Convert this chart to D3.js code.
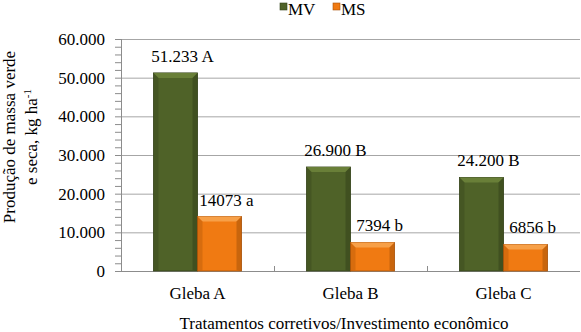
<!DOCTYPE html>
<meta charset="utf-8">
<style>
    body { margin: 0; background: #fff; }
    .grid line { stroke: #a6a6a6; stroke-width: 1px; }
</style>
<svg width="581" height="332"></svg>
<script src="https://d3js.org/d3.v7.min.js"></script>
<script>

    var categories = ["Gleba A", "Gleba B", "Gleba C"];
    var seriesNames = ["MV", "MS"];
    var mvValues = [51233, 26900, 24200];
    var msValues = [14073, 7394, 6856];
    var mvLabels = ["51.233 A", "26.900 B", "24.200 B"];
    var msLabels = ["14073 a", "7394 b", "6856 b"];
    var yTicks = [0, 10000, 20000, 30000, 40000, 50000, 60000];
    var yTickLabels = ["0", "10.000", "20.000", "30.000", "40.000", "50.000", "60.000"];

    var svg = d3.select("svg");
    var margin = {left: 121, right: 1, top: 39, bottom: 61};
    var width = 581 - margin.left - margin.right,
        height = 332 - margin.top - margin.bottom;
    var fs = "17px";
    var ff = "'Liberation Serif'";

    var colors = {MV: {base: "#4f6228", light: "#697f38", dark: "#34421a"},
                  MS: {base: "#f07a12", light: "#f7a048", dark: "#a8530a"}};

    var x0 = d3.scaleBand().domain(categories).range([0, width]);
    var x1 = d3.scaleBand().domain(seriesNames).range([0, 88]);
    var y = d3.scaleLinear().domain([0, 60000]).range([height, 0]);

    function label(sel) {
        return sel.style("font-family", ff).style("font-size", fs).attr("fill", "#000");
    }

    var g = svg.append("g").attr("transform", "translate(" + margin.left + "," + margin.top + ")");

    // grid
    g.append("g").attr("class", "grid")
        .selectAll("line").data(yTicks.slice(1)).enter().append("line")
        .attr("x1", 0).attr("x2", width)
        .attr("y1", function (d) { return y(d) + 0.5; })
        .attr("y2", function (d) { return y(d) + 0.5; });

    // y axis
    g.append("line").attr("x1", 0.5).attr("x2", 0.5).attr("y1", 0).attr("y2", height)
        .attr("stroke", "#8c8c8c");
    g.selectAll(".minor").data(d3.range(0, 60001, 2000)).enter().append("line")
        .attr("x1", -6).attr("x2", 0)
        .attr("y1", function (d) { return y(d) + 0.5; })
        .attr("y2", function (d) { return y(d) + 0.5; })
        .attr("stroke", "#8c8c8c");
    g.selectAll(".ylab").data(yTicks).enter().append("text")
        .attr("x", -16).attr("y", function (d) { return y(d); })
        .attr("dy", "0.35em").attr("text-anchor", "end")
        .call(label)
        .text(function (d, i) { return yTickLabels[i]; });

    // x axis
    g.append("line").attr("x1", 0).attr("x2", width).attr("y1", height + 0.5).attr("y2", height + 0.5)
        .attr("stroke", "#8c8c8c");
    g.selectAll(".xtick").data(categories.slice(1)).enter().append("line")
        .attr("x1", function (d) { return x0(d) + 0.5; })
        .attr("x2", function (d) { return x0(d) + 0.5; })
        .attr("y1", height - 5).attr("y2", height)
        .attr("stroke", "#8c8c8c");
    g.selectAll(".xlab").data(categories).enter().append("text")
        .attr("x", function (d) { return x0(d) + x0.bandwidth() / 2; })
        .attr("y", height + 28)
        .attr("text-anchor", "middle")
        .call(label)
        .text(function (d) { return d; });

    // bars
    var rows = categories.map(function (c, i) {
        return [{cat: c, s: "MV", v: mvValues[i], label: mvLabels[i]},
                {cat: c, s: "MS", v: msValues[i], label: msLabels[i]}];
    });
    var bev = 5;
    var groupOff = (x0.bandwidth() - 88) / 2;
    var bars = g.selectAll(".bar").data(d3.merge(rows)).enter().append("g")
        .attr("transform", function (d) { return "translate(" + (x0(d.cat) + groupOff + x1(d.s)) + ",0)"; });

    bars.append("rect")
        .attr("x", 0).attr("width", x1.bandwidth())
        .attr("y", function (d) { return y(d.v); })
        .attr("height", function (d) { return height - y(d.v); })
        .attr("fill", function (d) { return colors[d.s].base; })
        .attr("stroke", function (d) { return colors[d.s].dark; })
        .attr("stroke-width", 0.8);
    // bevel: top light, sides dark
    bars.append("path")
        .attr("fill", function (d) { return colors[d.s].light; })
        .attr("d", function (d) {
            var t = y(d.v), w = x1.bandwidth();
            return "M0," + t + "L" + w + "," + t + "L" + (w - bev) + "," + (t + bev) + "L" + bev + "," + (t + bev) + "Z";
        });
    bars.append("path")
        .attr("fill", function (d) { return colors[d.s].dark; }).attr("opacity", 0.55)
        .attr("d", function (d) {
            var t = y(d.v), w = x1.bandwidth();
            return "M" + w + "," + t + "L" + w + "," + height + "L" + (w - bev) + "," + (height - 1) + "L" + (w - bev) + "," + (t + bev) + "Z";
        });
    bars.append("path")
        .attr("fill", function (d) { return colors[d.s].dark; }).attr("opacity", 0.35)
        .attr("d", function (d) {
            var t = y(d.v);
            return "M0," + t + "L" + bev + "," + (t + bev) + "L" + bev + "," + (height - 1) + "L0," + height + "Z";
        });

    // value labels
    bars.append("text")
        .attr("x", x1.bandwidth() / 2 + 7)
        .attr("y", function (d) { return y(d.v) - 11; })
        .attr("text-anchor", "middle")
        .call(label)
        .text(function (d) { return d.label; });

    // legend
    var legend = svg.append("g").attr("transform", "translate(280,0)");
    seriesNames.forEach(function (s, i) {
        var lg = legend.append("g").attr("transform", "translate(" + (i * 53) + ",0)");
        lg.append("rect").attr("x", 0).attr("y", 3).attr("width", 7).attr("height", 7)
            .attr("fill", colors[s].base).attr("stroke", colors[s].dark).attr("stroke-width", 0.6);
        lg.append("text").attr("x", 8).attr("y", 15).call(label).text(s);
    });

    // axis titles
    var yt = svg.append("text")
        .attr("transform", "translate(15,137) rotate(-90)")
        .attr("text-anchor", "middle")
        .call(label);
    yt.append("tspan").attr("x", 0).attr("y", 0).text("Produção de massa verde");
    var l2 = yt.append("tspan").attr("x", 0).attr("y", 22);
    l2.text("e seca, kg ha");
    yt.append("tspan").attr("dy", "-6").style("font-size", "11px").text("-1");

    svg.append("text")
        .attr("x", 344).attr("y", 329)
        .attr("text-anchor", "middle")
        .call(label)
        .text("Tratamentos corretivos/Investimento econômico");

</script>
